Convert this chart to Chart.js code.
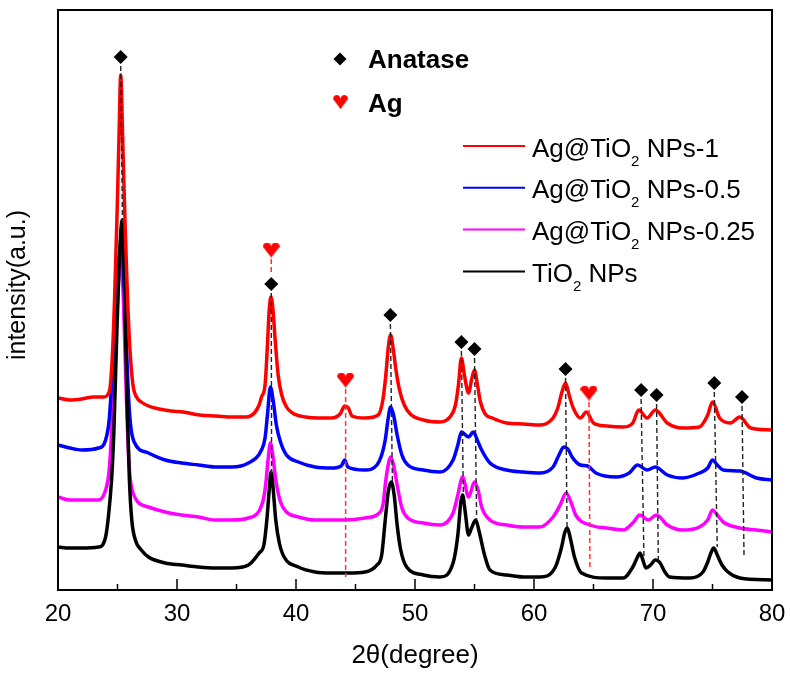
<!DOCTYPE html>
<html>
<head>
<meta charset="utf-8">
<title>XRD Ag@TiO2</title>
<script src="https://cdn.jsdelivr.net/npm/chart.js@4.4.1/dist/chart.umd.min.js"></script>
<style>
  html, body { margin: 0; padding: 0; background: #fff; }
  #wrap { width: 790px; height: 677px; }
</style>
</head>
<body>
<div id="wrap"><canvas id="xrdChart" width="790" height="677"></canvas></div>
<script>
// --- 1. DATA (2θ in degree, intensity in a.u., curves already offset) ---
const seriesLabels = ["Ag@TiO2 NPs-1", "Ag@TiO2 NPs-0.5", "Ag@TiO2 NPs-0.25", "TiO2 NPs"];
const seriesColors = ["#ff0000", "#0000ff", "#ff00ff", "#000000"];

const redTheta = [20, 21, 22, 23, 23.8, 24.3, 24.55, 24.75, 24.95, 25.12, 25.27, 25.45, 25.65, 25.85, 26.05, 26.3, 26.6, 27, 27.6, 28.5, 29.5, 30.5, 31.9, 33.3, 34.7, 35.8, 36.5, 36.9, 37.1, 37.4, 37.6, 37.75, 37.9, 38.05, 38.25, 38.5, 38.8, 39.2, 39.7, 40.8, 41.9, 43, 43.7, 44.1, 44.4, 44.7, 45.8, 46.9, 47.3, 47.55, 47.75, 47.95, 48.15, 48.4, 48.7, 49.1, 49.6, 50.7, 52.1, 53, 53.4, 53.65, 53.9, 54.15, 54.5, 54.75, 55, 55.25, 55.5, 55.9, 56.5, 57.7, 59.1, 60.5, 61.6, 62, 62.35, 62.65, 62.95, 63.3, 63.9, 64.4, 65, 66.1, 67.5, 68.3, 68.8, 69.5, 70.2, 71.2, 72.5, 73.9, 74.6, 75, 75.6, 76.5, 77.3, 78.2, 80];
const redInt = [192, 190, 191, 193, 193, 198, 230, 290, 370, 450, 515, 445, 360, 290, 240, 205, 193, 188, 184, 181, 179, 178, 175, 174, 173, 173, 177, 185, 193, 205, 245, 280, 293, 282, 250, 215, 195, 183, 177, 173, 172, 172, 176, 184, 182, 174, 172, 175, 190, 215, 242, 255, 243, 220, 200, 185, 176, 170, 168, 174, 185, 205, 232, 215, 197, 210, 220, 205, 188, 176, 172, 167, 166, 165, 172, 182, 198, 207, 195, 182, 172, 178, 167, 164, 163, 167, 180, 172, 180, 167, 162, 163, 175, 188, 172, 167, 173, 162, 160];

const blueTheta = [20, 21, 22, 23.4, 24, 24.3, 24.55, 24.8, 25.05, 25.3, 25.5, 25.7, 25.9, 26.1, 26.4, 27.6, 29, 30.4, 31.8, 33.2, 34.6, 36, 37.1, 37.4, 37.6, 37.85, 38.1, 38.35, 38.7, 39.2, 40.2, 41.6, 43, 43.8, 44.1, 44.35, 45.8, 46.8, 47.2, 47.5, 47.75, 47.95, 48.2, 48.5, 48.9, 49.4, 50.7, 52.1, 53.2, 53.6, 53.9, 54.5, 54.9, 55.3, 55.6, 56.3, 57.7, 59.1, 60.5, 61.6, 62.1, 62.5, 62.9, 63.2, 63.9, 64.5, 65.2, 66.9, 68, 68.7, 69.5, 70.2, 71.2, 72.5, 73.9, 74.6, 75, 75.4, 75.9, 77.3, 78.7, 80];
const blueInt = [145, 142, 140, 142, 150, 170, 215, 270, 320, 345, 320, 260, 200, 165, 148, 137, 130, 127, 125, 123, 123, 127, 140, 152, 175, 203, 188, 165, 148, 135, 128, 123, 122, 124, 130, 123, 120, 125, 135, 150, 172, 183, 175, 155, 135, 125, 120, 118, 130, 145, 158, 153, 158, 148, 140, 127, 120, 118, 117, 123, 135, 143, 140, 133, 125, 124, 117, 113, 117, 125, 120, 123, 115, 112, 117, 122, 130, 125, 120, 119, 112, 110];

const magentaTheta = [20, 21, 22, 23.4, 24, 24.3, 24.6, 24.85, 25.1, 25.3, 25.5, 25.7, 25.95, 26.3, 27.6, 29, 30.4, 31.8, 33.2, 34.6, 36, 37.2, 37.45, 37.65, 37.85, 38.05, 38.3, 38.7, 39.2, 40.2, 41.6, 43, 44.1, 45.8, 47, 47.3, 47.55, 47.8, 47.95, 48.2, 48.5, 48.9, 49.4, 50.7, 52.1, 53.2, 53.6, 54, 54.5, 55, 55.3, 55.6, 56.3, 57.7, 59.1, 60.5, 61.6, 62.2, 62.7, 63.1, 63.5, 64.7, 66.1, 67.5, 68.3, 68.9, 69.6, 70.3, 71.2, 72.5, 73.9, 74.6, 75, 75.4, 75.9, 77.3, 78.7, 80];
const magentaInt = [93, 90, 90, 90, 100, 120, 180, 250, 310, 328, 290, 210, 130, 97, 83, 78, 75, 73, 70, 70, 72, 88, 105, 130, 147, 135, 110, 88, 78, 73, 70, 70, 70, 72, 77, 85, 110, 128, 133, 125, 105, 82, 72, 67, 65, 77, 95, 113, 93, 108, 100, 83, 70, 65, 63, 63, 73, 85, 97, 88, 75, 65, 62, 60, 67, 75, 70, 75, 65, 60, 63, 70, 80, 75, 68, 62, 60, 58];

const blackTheta = [20, 21, 22, 23.4, 24, 24.25, 24.5, 24.7, 24.9, 25.15, 25.4, 25.6, 25.8, 26, 26.2, 26.5, 27, 27.6, 29, 30.4, 31.8, 33.2, 34.6, 36, 36.9, 37.3, 37.55, 37.75, 37.9, 38.05, 38.3, 38.6, 39, 40.2, 41.6, 43, 44.4, 45.8, 46.8, 47.2, 47.5, 47.75, 48, 48.25, 48.5, 48.8, 49.3, 50.7, 52.1, 53.2, 53.6, 53.85, 54, 54.2, 54.5, 54.75, 55.1, 55.4, 55.8, 56.3, 57.7, 59.1, 60.5, 61.8, 62.3, 62.6, 62.8, 63.05, 63.4, 64, 66.1, 67.5, 68.3, 68.7, 68.9, 69.15, 69.4, 69.8, 70.2, 70.6, 71, 71.4, 73.1, 74.2, 74.6, 74.9, 75.1, 75.4, 75.8, 76.3, 77.3, 80];
const blackInt = [43, 42, 42, 43, 53, 75, 110, 160, 240, 330, 370, 300, 190, 110, 70, 50, 40, 33, 27, 25, 23, 22, 22, 25, 37, 45, 70, 100, 118, 105, 70, 47, 33, 23, 18, 17, 17, 18, 25, 35, 70, 98, 108, 95, 65, 40, 23, 15, 13, 27, 55, 88, 95, 80, 55, 62, 70, 58, 37, 20, 15, 13, 13, 23, 42, 58, 62, 52, 33, 17, 12, 12, 23, 33, 37, 30, 22, 25, 30, 27, 18, 13, 12, 18, 28, 38, 42, 35, 25, 18, 12, 10];

// peak markers: anatase (diamond) and Ag (heart), plus where their dashed guide ends
const anataseTheta = [25.27, 37.92, 47.93, 53.9, 55.0, 62.65, 69.0, 70.3, 75.15, 77.48];
const anataseMark = [533, 306, 275, 248, 241, 221, 200, 195, 207, 193];
const anataseEndTheta = [25.42, 37.95, 48.1, 54.06, 55.18, 62.78, 69.24, 70.45, 75.4, 77.65];
const anataseEnd = [365, 115, 108, 97, 70, 60, 33, 27, 43, 33];

const agTheta = [37.92, 44.17, 64.62];
const agMark = [340, 210, 197];
const agEndTheta = [37.92, 44.17, 64.7];
const agEnd = [315, 13, 23];

const xTicks = [20, 30, 40, 50, 60, 70, 80];
const xMinorTicks = [25, 35, 45, 55, 65, 75];

// --- 2. HELPERS ---
function makeHeart(w, h, color) {
  const c = document.createElement("canvas");
  c.width = w;
  c.height = h;
  const g = c.getContext("2d");
  const r = w / 4;
  g.fillStyle = color;
  g.beginPath();
  g.arc(r, r, r, Math.PI, 0);
  g.arc(3 * r, r, r, Math.PI, 0);
  g.lineTo(w / 2, h);
  g.closePath();
  g.fill();
  return c;
}

function toPoints(xs, ys) {
  return xs.map((x, i) => ({ x: x, y: ys[i] }));
}

const heartImg = makeHeart(17, 15, "#ff0000");
const FONT = "'Liberation Sans', Arial, sans-serif";

// --- 3. DATASETS ---
const curves = [
  [redTheta, redInt],
  [blueTheta, blueInt],
  [magentaTheta, magentaInt],
  [blackTheta, blackInt],
];
const curveOrder = [3, 5, 6, 4];

let datasets = curves.map((c, i) => ({
  label: seriesLabels[i],
  data: toPoints(c[0], c[1]),
  borderColor: seriesColors[i],
  borderWidth: 3.5,
  pointRadius: 0,
  cubicInterpolationMode: "monotone",
  order: curveOrder[i],
}));

// dashed guides from each marker down to the peaks
anataseTheta.forEach((t, i) => {
  datasets.push({
    data: [
      { x: t, y: anataseMark[i] - 9 },
      { x: anataseEndTheta[i], y: anataseEnd[i] },
    ],
    borderColor: "#222",
    borderWidth: 1.4,
    borderDash: [5, 3],
    pointRadius: 0,
    order: 1,
  });
});
agTheta.forEach((t, i) => {
  datasets.push({
    data: [
      { x: t, y: agMark[i] - 9 },
      { x: agEndTheta[i], y: agEnd[i] },
    ],
    borderColor: "#ff3333",
    borderWidth: 1.5,
    borderDash: [5, 3],
    pointRadius: 0,
    order: 1,
  });
});

datasets.push({
  data: toPoints(anataseTheta, anataseMark),
  showLine: false,
  pointStyle: "rectRot",
  pointRadius: 7,
  pointBackgroundColor: "#000",
  pointBorderColor: "#000",
  pointBorderWidth: 0,
  order: 0,
});
datasets.push({
  data: toPoints(agTheta, agMark),
  showLine: false,
  pointStyle: heartImg,
  order: 0,
});

// --- 4. FRAME, TICKS, TITLES & LEGEND ---
const decorPlugin = {
  id: "decor",
  afterDraw(chart) {
    const ctx = chart.ctx;
    const a = chart.chartArea;
    const xs = chart.scales.x;
    ctx.save();

    // frame
    ctx.strokeStyle = "#000";
    ctx.lineWidth = 2;
    ctx.strokeRect(a.left, a.top, a.right - a.left, a.bottom - a.top);

    // inward ticks on the bottom axis
    ctx.lineWidth = 1.5;
    xTicks.forEach((v) => {
      const px = xs.getPixelForValue(v);
      ctx.beginPath();
      ctx.moveTo(px, a.bottom);
      ctx.lineTo(px, a.bottom - 11);
      ctx.stroke();
    });
    xMinorTicks.forEach((v) => {
      const px = xs.getPixelForValue(v);
      ctx.beginPath();
      ctx.moveTo(px, a.bottom);
      ctx.lineTo(px, a.bottom - 6);
      ctx.stroke();
    });

    // y title
    ctx.fillStyle = "#000";
    ctx.font = "25px " + FONT;
    ctx.textAlign = "center";
    ctx.textBaseline = "middle";
    ctx.translate(18, 285);
    ctx.rotate(-Math.PI / 2);
    ctx.fillText("intensity(a.u.)", 0, 0);
    ctx.setTransform(1, 0, 0, 1, 0, 0);

    // marker legend
    ctx.beginPath();
    ctx.moveTo(340, 52.5);
    ctx.lineTo(346.5, 59);
    ctx.lineTo(340, 65.5);
    ctx.lineTo(333.5, 59);
    ctx.closePath();
    ctx.fill();
    ctx.drawImage(heartImg, 333, 95, 15, 14);
    ctx.textAlign = "left";
    ctx.textBaseline = "alphabetic";
    ctx.font = "bold 26px " + FONT;
    ctx.fillText("Anatase", 368, 68);
    ctx.fillText("Ag", 368, 112);

    // series legend with subscript 2
    seriesLabels.forEach((label, i) => {
      const y = 146 + i * 41.8;
      ctx.strokeStyle = seriesColors[i];
      ctx.lineWidth = 2;
      ctx.beginPath();
      ctx.moveTo(463, y);
      ctx.lineTo(525, y);
      ctx.stroke();

      const m = label.match(/^(.*TiO)2(.*)$/);
      let x = 532;
      const base = y + 10.5;
      ctx.font = "26px " + FONT;
      ctx.fillText(m[1], x, base);
      x += ctx.measureText(m[1]).width;
      ctx.font = "15px " + FONT;
      ctx.fillText("2", x, base + 9);
      x += ctx.measureText("2").width;
      ctx.font = "26px " + FONT;
      ctx.fillText(m[2], x, base);
    });

    ctx.restore();
  },
};

// --- 5. CHART ---
new Chart(document.getElementById("xrdChart"), {
  type: "line",
  data: { datasets: datasets },
  options: {
    responsive: false,
    animation: false,
    devicePixelRatio: 1,
    layout: { padding: { top: 10, right: 18, left: 0, bottom: 0 } },
    plugins: { legend: { display: false }, tooltip: { enabled: false } },
    scales: {
      x: {
        type: "linear",
        min: 20,
        max: 80,
        afterFit: (s) => {
          s.height = 87;
          s.paddingLeft = 0;
          s.paddingRight = 0;
        },
        afterBuildTicks: (s) => { s.ticks = xTicks.map((v) => ({ value: v })); },
        grid: { display: false, drawTicks: false },
        border: { display: false },
        ticks: { color: "#000", padding: 10, font: { size: 24, family: FONT } },
        title: {
          display: true,
          text: "2θ(degree)",
          color: "#000",
          font: { size: 26, family: FONT },
          padding: { top: 0, bottom: 6 },
        },
      },
      y: {
        type: "linear",
        min: 0,
        max: 580,
        afterFit: (s) => { s.width = 58; },
        grid: { display: false, drawTicks: false },
        border: { display: false },
        ticks: { display: false },
      },
    },
  },
  plugins: [decorPlugin],
});
</script>
</body>
</html>
